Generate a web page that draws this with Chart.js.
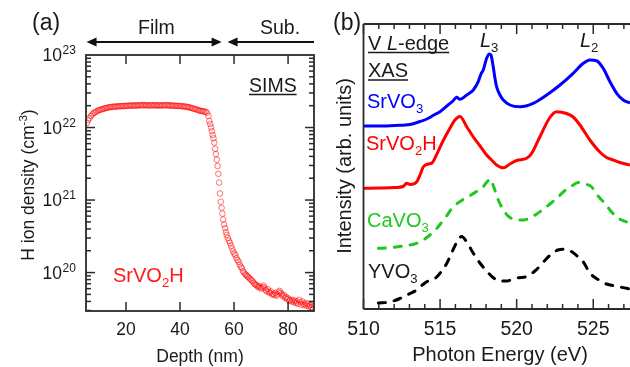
<!DOCTYPE html>
<html><head><meta charset="utf-8">
<script src="https://cdn.jsdelivr.net/npm/chart.js@4.4.1/dist/chart.umd.min.js"></script>
<style>
html,body{margin:0;padding:0;background:#fff;overflow:hidden}
#wrap{position:relative;width:630px;height:367px;background:#fff}
canvas{position:absolute;left:0;top:0}
</style></head><body>
<div id="wrap"><canvas id="ca" width="630" height="367"></canvas><canvas id="cb" width="630" height="367"></canvas></div>
<script>
// ---------- Panel (a): SIMS depth profile ----------
const depthNm = [
5.5,6.0,6.5,7.0,7.5,8.0,8.5,9.0,9.5,10.0,10.5,11.0,11.5,12.0,12.5,13.0,13.5,14.0,14.5,15.0,
15.5,16.0,16.5,17.0,17.5,18.0,18.5,19.0,19.5,20.0,20.5,21.0,21.5,22.0,22.5,23.0,23.5,24.0,24.5,25.0,
25.5,26.0,26.5,27.0,27.5,28.0,28.5,29.0,29.5,30.0,30.5,31.0,31.5,32.0,32.5,33.0,33.5,34.0,34.5,35.0,
35.5,36.0,36.5,37.0,37.5,38.0,38.5,39.0,39.5,40.0,40.5,41.0,41.5,42.0,42.5,43.0,43.5,44.0,44.5,45.0,
45.5,46.0,46.5,47.0,47.5,48.0,48.5,49.0,49.5,50.0,
50.5,50.85,51.2,51.5,51.8,52.1,52.4,52.7,53.0,53.3,53.6,53.9,54.2,54.5,54.8,55.1,55.4,55.7,56.0,56.3,
56.7,57.0,57.3,57.7,58.1,58.5,58.9,59.3,59.7,60.1,60.5,60.9,61.3,61.7,62.1,62.5,62.9,63.3,63.7,64.1,
64.5,64.9,65.3,65.7,66.1,66.5,66.9,67.3,67.7,68.1,68.5,68.9,69.3,69.7,70.1,70.5,70.9,71.3,71.7,72.1,
72.5,72.9,73.3,73.7,74.1,74.5,74.9,75.3,75.7,76.1,76.5,76.9,77.3,77.7,78.1,78.5,78.9,79.3,79.7,80.1,
80.5,80.9,81.3,81.7,82.1,82.5,82.9,83.3,83.7,84.1,84.5,84.9,85.3,85.7,86.1,86.5,86.9,87.3,87.7,88.1,
88.5,88.9,89.3,89.6];
const hDensity = [
1.15e22,1.26e22,1.35e22,1.44e22,1.51e22,1.58e22,1.62e22,1.66e22,1.70e22,1.74e22,1.76e22,1.78e22,1.80e22,1.83e22,1.85e22,1.87e22,1.89e22,1.91e22,1.92e22,1.93e22,
1.94e22,1.95e22,1.94e22,1.96e22,1.97e22,1.96e22,1.98e22,1.97e22,1.99e22,1.98e22,2.00e22,1.99e22,2.01e22,2.00e22,2.02e22,2.01e22,2.02e22,2.00e22,2.03e22,2.02e22,
2.04e22,2.02e22,2.03e22,2.04e22,2.02e22,2.03e22,2.01e22,2.03e22,2.02e22,2.04e22,2.02e22,2.03e22,2.01e22,2.03e22,2.02e22,2.01e22,2.03e22,2.02e22,2.04e22,2.02e22,
2.03e22,2.01e22,2.02e22,2.00e22,2.01e22,1.99e22,2.00e22,1.98e22,1.99e22,1.97e22,1.98e22,1.96e22,1.95e22,1.94e22,1.93e22,1.91e22,1.89e22,1.87e22,1.85e22,1.82e22,
1.80e22,1.78e22,1.75e22,1.72e22,1.70e22,1.69e22,1.68e22,1.66e22,1.65e22,1.60e22,
1.45e22,1.23e22,1.12e22,1.0e22,8.9e21,7.9e21,7.1e21,6.2e21,5.1e21,4.3e21,3.6e21,2.95e21,2.3e21,1.74e21,1.23e21,9.5e20,7.8e20,6.5e20,5.4e20,4.6e20,
4.1e20,3.6e20,3.3e20,3.0e20,2.75e20,2.57e20,2.34e20,2.14e20,1.95e20,1.82e20,1.74e20,1.58e20,1.48e20,1.41e20,1.29e20,1.20e20,1.15e20,1.05e20,1.0e20,9.5e19,
9.3e19,8.9e19,8.7e19,8.3e19,8.1e19,7.8e19,7.6e19,7.2e19,6.9e19,6.8e19,6.6e19,6.3e19,6.5e19,6.2e19,6.0e19,6.3e19,6.6e19,6.2e19,5.75e19,5.5e19,
5.9e19,5.4e19,5.25e19,5.5e19,5.0e19,5.1e19,4.9e19,5.25e19,4.8e19,5.0e19,5.4e19,5.6e19,5.25e19,5.0e19,4.7e19,4.9e19,4.5e19,4.6e19,4.3e19,4.4e19,
4.1e19,4.2e19,4.0e19,4.2e19,3.9e19,4.1e19,3.8e19,4.0e19,3.7e19,4.2e19,3.9e19,3.6e19,4.0e19,3.7e19,3.55e19,3.8e19,3.5e19,3.7e19,3.4e19,3.55e19,
3.3e19,3.6e19,3.16e19,3.5e19];
const depthTicks = [20, 40, 60, 80];
const densityExponents = [20, 21, 22, 23];
const filmSpan = [5.4, 55.4];
const subSpan = [57.6, 89.6];

// ---------- Panel (b): V L-edge XAS ----------
const srvo3Energy = [510.0,511.08,512.06,513.04,513.69,514.14,514.6,514.99,515.52,515.84,516.08,516.3,516.74,517.17,517.49,517.67,517.82,518.04,518.22,518.32,518.47,518.58,518.69,518.91,519.13,519.56,520.22,521.08,521.96,522.83,523.69,524.35,524.78,525.22,525.65,526.09,526.53,526.96,527.4];
const srvo3Intensity = [183,183,183.5,184.5,187.5,190,194,197.3,204,208,211.7,209.7,214,219,227.3,235,239,250.7,255,254,242.3,231,222.3,214,209,204,202.3,205.7,214,224,235.7,245.7,249,248.3,240.7,227.3,215.7,209,206];
const srvo2hEnergy = [510.0,511.08,512.06,512.58,512.82,513.04,513.47,513.69,513.9,514.23,514.47,514.73,515.19,515.65,515.97,516.3,516.74,517.17,517.61,518.04,518.26,518.69,519.13,519.56,520.0,520.65,520.98,521.52,522.17,522.61,523.26,523.69,524.13,524.78,525.43,525.87,526.31,526.74,527.4];
const srvo2hIntensity = [120.7,121,121.5,122.5,125.7,124.5,127,134,142,145,146,153,168,181,189,192.5,182.3,172,163,154,150.5,144,141.2,145,148.5,150.7,155.7,172.3,191.5,197.3,195.5,192,184,169,157,151.5,149,146.5,144];
const cavo3Energy = [510.97,511.73,512.58,513.47,513.9,514.34,514.78,515.32,515.86,516.3,516.74,517.39,517.8,518.06,518.29,518.47,518.8,519.24,519.56,520.0,520.43,520.87,521.63,522.17,522.61,523.04,523.69,524.02,524.46,524.9,525.31,525.77,526.09,526.53,526.85,527.4];
const cavo3Intensity = [60.7,61.3,63,65.7,69,74,80.5,91,102,107.5,111.5,117.5,122,127,130,123.5,109,96.5,91.5,89.5,89,91,98.5,105,110.5,117,124,126.5,125,122,113,105.5,99,92,89,86];
const yvo3Energy = [510.97,511.73,512.38,513.04,513.47,513.88,514.21,514.67,515.06,515.45,515.78,516.1,516.41,516.74,517.17,517.6,518.04,518.45,518.91,519.37,519.89,520.33,520.74,521.19,521.52,521.96,522.3,522.7,523.04,523.37,523.67,524.02,524.35,524.78,525.11,525.43,525.87,526.41,527.18,527.4];
const yvo3Intensity = [6,7,10.5,15.5,19,24.5,28,30.5,37,46,57,67,72.5,67,55.7,46,38,31.5,28,28,31,31.5,33,38,43,50.5,55.5,59,59.7,59,56.5,52,47,36,31.5,28.5,25,23,20.7,20];
const energyTicks = [510, 515, 520, 525];

// ---------- helpers ----------
const FONT = '"Liberation Sans", Arial, Helvetica, sans-serif';
const INK = '#1a1a1a';
const AXIS = '#2b2b2b';
function richText(ctx, x, y, parts, size, color, align) {
  let total = 0;
  const segs = parts.map(p => {
    const t = p[0], m = p[1] || '';
    const small = (m === 'sub' || m === 'sup');
    const s = small ? size * 0.66 : size;
    const f = (m === 'i' ? 'italic ' : '') + s + 'px ' + FONT;
    ctx.font = f;
    const w = ctx.measureText(t).width;
    total += w;
    return {t, f, w, dy: m === 'sub' ? size * 0.27 : (m === 'sup' ? -size * 0.42 : 0)};
  });
  let cx = align === 'center' ? x - total / 2 : (align === 'right' ? x - total : x);
  const x0 = cx;
  ctx.fillStyle = color; ctx.textBaseline = 'alphabetic'; ctx.textAlign = 'left';
  segs.forEach(s => { ctx.font = s.f; ctx.fillText(s.t, cx, y + s.dy); cx += s.w; });
  return {x0, w: total};
}
function line(ctx, x1, y1, x2, y2) { ctx.beginPath(); ctx.moveTo(x1, y1); ctx.lineTo(x2, y2); ctx.stroke(); }
function arrowHead(ctx, x, y, dir) {
  ctx.beginPath(); ctx.moveTo(x, y); ctx.lineTo(x - dir * 10, y - 4.5); ctx.lineTo(x - dir * 10, y + 4.5); ctx.closePath(); ctx.fill();
}

// ---------- Chart (a) ----------
const panelAPlugin = {
  id: 'panelA',
  afterDraw(chart) {
    const ctx = chart.ctx, a = chart.chartArea, xs = chart.scales.x, ys = chart.scales.y;
    ctx.save();
    ctx.strokeStyle = AXIS; ctx.lineWidth = 1.8; ctx.lineCap = 'butt';
    ctx.strokeRect(a.left, a.top, a.right - a.left, a.bottom - a.top);
    ctx.lineWidth = 1.5;
    depthTicks.forEach(v => { const px = xs.getPixelForValue(v); line(ctx, px, a.bottom, px, a.bottom - 9); line(ctx, px, a.top, px, a.top + 9); });
    for (let e = 19; e <= 22; e++) for (let m = 1; m <= 9; m++) {
      const val = m * Math.pow(10, e);
      if (val < ys.min * 0.999 || val > ys.max * 1.001) continue;
      const py = ys.getPixelForValue(val); const L = m === 1 ? 9 : 5;
      line(ctx, a.left, py, a.left + L, py); line(ctx, a.right, py, a.right - L, py);
    }
    // tick labels
    depthTicks.forEach(v => richText(ctx, xs.getPixelForValue(v), 335, [[String(v)]], 17.5, INK, 'center'));
    densityExponents.forEach(e => {
      const py = ys.getPixelForValue(Math.pow(10, e));
      ctx.font = '17.5px ' + FONT; ctx.fillStyle = INK; ctx.textAlign = 'right'; ctx.textBaseline = 'alphabetic';
      ctx.fillText('10', 62, py + 6);
      ctx.font = '12px ' + FONT; ctx.textAlign = 'left';
      ctx.fillText(String(e), 62.5, py - 1);
    });
    // axis titles
    richText(ctx, (a.left + a.right) / 2, 361.5, [['Depth (nm)']], 17.5, INK, 'center');
    ctx.save(); ctx.translate(34, 185); ctx.rotate(-Math.PI / 2);
    richText(ctx, 0, 0, [['H ion density (cm'], ['-3', 'sup'], [')']], 17.5, INK, 'center');
    ctx.restore();
    // panel label & annotations
    richText(ctx, 32, 30, [['(a)']], 23, INK, 'left');
    richText(ctx, 138, 34, [['Film']], 19.5, INK, 'left');
    richText(ctx, 260, 34, [['Sub.']], 19.5, INK, 'left');
    ctx.strokeStyle = '#111'; ctx.fillStyle = '#111'; ctx.lineWidth = 1.8;
    const f1 = xs.getPixelForValue(filmSpan[0]), f2 = xs.getPixelForValue(filmSpan[1]);
    const s1 = xs.getPixelForValue(subSpan[0]), s2 = xs.getPixelForValue(subSpan[1]);
    line(ctx, f1 + 6, 42, f2 - 6, 42); arrowHead(ctx, f1, 42, -1); arrowHead(ctx, f2, 42, 1);
    line(ctx, s1 + 6, 42, s2, 42); arrowHead(ctx, s1, 42, -1);
    const sims = richText(ctx, 249, 91.5, [['SIMS']], 19.5, INK, 'left');
    ctx.strokeStyle = INK; ctx.lineWidth = 1.5; line(ctx, sims.x0, 94.5, sims.x0 + sims.w, 94.5);
    richText(ctx, 113, 282, [['SrVO'], ['2', 'sub'], ['H']], 20, '#ff1a1a', 'left');
    ctx.restore();
  }
};

new Chart(document.getElementById('ca'), {
  type: 'scatter',
  data: { datasets: [{
    label: 'SrVO2H',
    data: depthNm.map((d, i) => ({x: d, y: hDensity[i]})),
    pointStyle: 'circle', pointRadius: 2.8, pointBorderWidth: 1,
    pointBorderColor: 'rgba(255,0,0,0.55)', pointBackgroundColor: 'rgba(0,0,0,0)',
    borderColor: 'rgba(255,0,0,0.55)', backgroundColor: 'rgba(0,0,0,0)', showLine: false
  }]},
  options: {
    responsive: false, animation: false, devicePixelRatio: 1, events: [],
    layout: { padding: { left: 0, top: 55, right: 316, bottom: 0 } },
    plugins: { legend: { display: false }, tooltip: { enabled: false } },
    scales: {
      x: { type: 'linear', min: 5.2, max: 89.6, grid: { display: false }, border: { display: false },
           ticks: { display: false }, afterFit: s => { s.height = 56; } },
      y: { type: 'logarithmic', min: Math.pow(10, 19.47), max: 1e23, grid: { display: false }, border: { display: false },
           ticks: { display: false }, afterFit: s => { s.width = 86; } }
    }
  },
  plugins: [panelAPlugin]
});

// ---------- Chart (b) ----------
const panelBPlugin = {
  id: 'panelB',
  afterDraw(chart) {
    const ctx = chart.ctx, a = chart.chartArea, xs = chart.scales.x;
    ctx.save();
    ctx.strokeStyle = AXIS; ctx.lineWidth = 1.8;
    line(ctx, a.left, a.top, a.left, a.bottom);
    line(ctx, a.left, a.bottom, a.right, a.bottom);
    line(ctx, a.left, a.top, a.right, a.top);
    ctx.lineWidth = 1.5;
    for (let e = Math.ceil(xs.min); e <= xs.max; e++) {
      const px = xs.getPixelForValue(e); const L = e % 5 === 0 ? 10 : 5;
      line(ctx, px, a.bottom, px, a.bottom - L); line(ctx, px, a.top, px, a.top + L);
    }
    energyTicks.forEach(v => richText(ctx, xs.getPixelForValue(v), 335, [[String(v)]], 19.5, INK, 'center'));
    richText(ctx, 500, 361, [['Photon Energy (eV)']], 20, INK, 'center');
    ctx.save(); ctx.translate(351, 166); ctx.rotate(-Math.PI / 2);
    richText(ctx, 0, 0, [['Intensity (arb. units)']], 20, INK, 'center');
    ctx.restore();
    richText(ctx, 333, 30, [['(b)']], 23, INK, 'left');
    ctx.strokeStyle = INK; ctx.lineWidth = 1.5;
    const t1 = richText(ctx, 368, 50, [['V '], ['L', 'i'], ['-edge']], 20, INK, 'left');
    line(ctx, t1.x0, 52.5, t1.x0 + t1.w, 52.5);
    const t2 = richText(ctx, 368, 77, [['XAS']], 20, INK, 'left');
    line(ctx, t2.x0, 80, t2.x0 + t2.w, 80);
    richText(ctx, 480, 47, [['L', 'i'], ['3', 'sub']], 20, INK, 'left');
    richText(ctx, 580, 47, [['L', 'i'], ['2', 'sub']], 20, INK, 'left');
    richText(ctx, 367, 108, [['SrVO'], ['3', 'sub']], 20, '#0000ff', 'left');
    richText(ctx, 366, 150, [['SrVO'], ['2', 'sub'], ['H']], 20, '#ff0000', 'left');
    richText(ctx, 367, 227, [['CaVO'], ['3', 'sub']], 20, '#1ec81e', 'left');
    richText(ctx, 368, 278, [['YVO'], ['3', 'sub']], 20, INK, 'left');
    ctx.restore();
  }
};
function series(xs, ys) { return xs.map((x, i) => ({x, y: ys[i]})); }
const common = { pointRadius: 0, borderWidth: 3, cubicInterpolationMode: 'monotone', fill: false, borderJoinStyle: 'round' };
new Chart(document.getElementById('cb'), {
  type: 'line',
  data: { datasets: [
    Object.assign({ label: 'SrVO3', data: series(srvo3Energy, srvo3Intensity), borderColor: '#0000ff' }, common),
    Object.assign({ label: 'SrVO2H', data: series(srvo2hEnergy, srvo2hIntensity), borderColor: '#ff0000' }, common),
    Object.assign({ label: 'CaVO3', data: series(cavo3Energy, cavo3Intensity), borderColor: '#1ec81e', borderDash: [7, 9], borderCapStyle: 'round' }, common),
    Object.assign({ label: 'YVO3', data: series(yvo3Energy, yvo3Intensity), borderColor: '#000000', borderDash: [7, 9], borderCapStyle: 'round' }, common)
  ]},
  options: {
    responsive: false, animation: false, devicePixelRatio: 1, events: [],
    layout: { padding: { left: 0, top: 24, right: 0, bottom: 0 } },
    plugins: { legend: { display: false }, tooltip: { enabled: false } },
    scales: {
      x: { type: 'linear', min: 510, max: 527.4, grid: { display: false }, border: { display: false },
           ticks: { display: false }, afterFit: s => { s.height = 58; } },
      y: { type: 'linear', min: 0, max: 285, grid: { display: false }, border: { display: false },
           ticks: { display: false }, afterFit: s => { s.width = 363.5; } }
    }
  },
  plugins: [panelBPlugin]
});
</script>
</body></html>
